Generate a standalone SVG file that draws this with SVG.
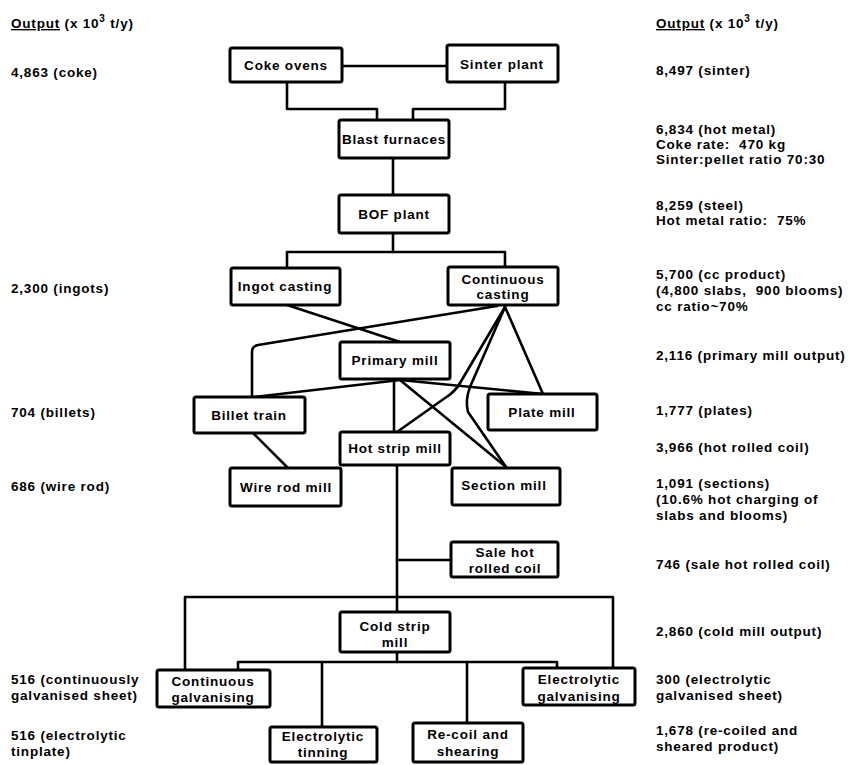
<svg xmlns="http://www.w3.org/2000/svg" width="858" height="765" viewBox="0 0 858 765">
<style>
  .box { fill: #fff; stroke: #000; stroke-width: 3; }
  .ln { fill: none; stroke: #000; stroke-width: 2.6; stroke-linejoin: round; stroke-linecap: round; }
  text { font-family: "Liberation Sans", Arial, sans-serif; font-weight: bold; font-size: 13.5px; letter-spacing: 0.8px; fill: #000; }
  .c { text-anchor: middle; }
</style>
<rect width="858" height="765" fill="#fff"/>

<g id="connectors">
  <path class="ln" d="M342,66 H447"/>
  <path class="ln" d="M287,82 V109 H377 V120"/>
  <path class="ln" d="M505,82 V109 H413 V120"/>
  <path class="ln" d="M393,158 V195"/>
  <path class="ln" d="M393,233 V252"/>
  <path class="ln" d="M287,268 V252 H505 V267"/>
  <path class="ln" d="M287,305 L400,342"/>
  <path class="ln" d="M497,306 L258,345 Q252,346 252,352 V397"/>
  <path class="ln" d="M400,380 L254,397"/>
  <path class="ln" d="M394,379 V432"/>
  <path class="ln" d="M400,380 L543,394"/>
  <path class="ln" d="M400,380 L506,467"/>
  <path class="ln" d="M505,307 L460,383 Q455,392 445,398 L397,432"/>
  <path class="ln" d="M505,307 L470,387 Q465,400 468,412 L506,467"/>
  <path class="ln" d="M505,307 L543,394"/>
  <path class="ln" d="M253,433 L288,468"/>
  <path class="ln" d="M397,465 V612"/>
  <path class="ln" d="M397,560 H451"/>
  <path class="ln" d="M185,670 V597 H613 V668"/>
  <path class="ln" d="M397,652 V662"/>
  <path class="ln" d="M238,670 V662 H557 V668"/>
  <path class="ln" d="M322,662 V727"/>
  <path class="ln" d="M467,662 V723"/>
</g>

<g id="coke-ovens"><rect class="box" x="230" y="48" width="112" height="34" rx="2"/><text class="c" x="286" y="70">Coke ovens</text></g>
<g id="sinter-plant"><rect class="box" x="447" y="45" width="111" height="37" rx="2"/><text class="c" x="502" y="69">Sinter plant</text></g>
<g id="blast-furnaces"><rect class="box" x="339" y="120" width="110" height="38" rx="2"/><text class="c" x="394" y="144">Blast furnaces</text></g>
<g id="bof-plant"><rect class="box" x="339" y="195" width="110" height="38" rx="2"/><text class="c" x="394" y="219">BOF plant</text></g>
<g id="ingot-casting"><rect class="box" x="231" y="268" width="109" height="37" rx="2"/><text class="c" x="285" y="291">Ingot casting</text></g>
<g id="continuous-casting"><rect class="box" x="448" y="267" width="110" height="38" rx="2"/><text class="c" x="503" y="284">Continuous</text><text class="c" x="503" y="299">casting</text></g>
<g id="primary-mill"><rect class="box" x="340" y="342" width="110" height="37" rx="2"/><text class="c" x="395" y="365">Primary mill</text></g>
<g id="billet-train"><rect class="box" x="194" y="397" width="111" height="36" rx="2"/><text class="c" x="249" y="420">Billet train</text></g>
<g id="plate-mill"><rect class="box" x="488" y="394" width="109" height="36" rx="2"/><text class="c" x="542" y="417">Plate mill</text></g>
<g id="hot-strip-mill"><rect class="box" x="340" y="432" width="110" height="33" rx="2"/><text class="c" x="395" y="453">Hot strip mill</text></g>
<g id="wire-rod-mill"><rect class="box" x="230" y="468" width="111" height="38" rx="2"/><text class="c" x="286" y="492">Wire rod mill</text></g>
<g id="section-mill"><rect class="box" x="452" y="468" width="108" height="37" rx="2"/><text class="c" x="504" y="490">Section mill</text></g>
<g id="sale-hot-rolled-coil"><rect class="box" x="451" y="542" width="107" height="35" rx="2"/><text class="c" x="505" y="557">Sale hot</text><text class="c" x="505" y="573">rolled coil</text></g>
<g id="cold-strip-mill"><rect class="box" x="340" y="612" width="110" height="40" rx="2"/><text class="c" x="395" y="631">Cold strip</text><text class="c" x="395" y="647">mill</text></g>
<g id="continuous-galvanising"><rect class="box" x="157" y="670" width="113" height="37" rx="2"/><text class="c" x="213" y="686">Continuous</text><text class="c" x="213" y="702">galvanising</text></g>
<g id="electrolytic-tinning"><rect class="box" x="270" y="727" width="107" height="35" rx="2"/><text class="c" x="323" y="741">Electrolytic</text><text class="c" x="323" y="757">tinning</text></g>
<g id="recoil-shearing"><rect class="box" x="413" y="723" width="110" height="39" rx="2"/><text class="c" x="468" y="739">Re-coil and</text><text class="c" x="468" y="756">shearing</text></g>
<g id="electrolytic-galvanising"><rect class="box" x="523" y="668" width="112" height="37" rx="2"/><text class="c" x="579" y="684">Electrolytic</text><text class="c" x="579" y="701">galvanising</text></g>

<g id="left-annotations">
  <text x="11" y="28"><tspan text-decoration="underline">Output</tspan> (x 10<tspan dy="-6" font-size="10">3</tspan><tspan dy="6"> t/y)</tspan></text>
  <text x="11" y="77">4,863 (coke)</text>
  <text x="11" y="293">2,300 (ingots)</text>
  <text x="11" y="417">704 (billets)</text>
  <text x="11" y="491">686 (wire rod)</text>
  <text x="11" y="684">516 (continuously</text>
  <text x="11" y="700">galvanised sheet)</text>
  <text x="11" y="740">516 (electrolytic</text>
  <text x="11" y="756">tinplate)</text>
</g>

<g id="right-annotations">
  <text x="656" y="28"><tspan text-decoration="underline">Output</tspan> (x 10<tspan dy="-6" font-size="10">3</tspan><tspan dy="6"> t/y)</tspan></text>
  <text x="656" y="75">8,497 (sinter)</text>
  <text x="656" y="134">6,834 (hot metal)</text>
  <text x="656" y="149" xml:space="preserve">Coke rate:  470 kg</text>
  <text x="656" y="164">Sinter:pellet ratio 70:30</text>
  <text x="656" y="210">8,259 (steel)</text>
  <text x="656" y="225" xml:space="preserve">Hot metal ratio:  75%</text>
  <text x="656" y="279">5,700 (cc product)</text>
  <text x="656" y="295" xml:space="preserve">(4,800 slabs,  900 blooms)</text>
  <text x="656" y="311">cc ratio~70%</text>
  <text x="656" y="360">2,116 (primary mill output)</text>
  <text x="656" y="415">1,777 (plates)</text>
  <text x="656" y="452">3,966 (hot rolled coil)</text>
  <text x="656" y="488">1,091 (sections)</text>
  <text x="656" y="504">(10.6% hot charging of</text>
  <text x="656" y="520">slabs and blooms)</text>
  <text x="656" y="569">746 (sale hot rolled coil)</text>
  <text x="656" y="636">2,860 (cold mill output)</text>
  <text x="656" y="684">300 (electrolytic</text>
  <text x="656" y="700">galvanised sheet)</text>
  <text x="656" y="735">1,678 (re-coiled and</text>
  <text x="656" y="751">sheared product)</text>
</g>
</svg>
